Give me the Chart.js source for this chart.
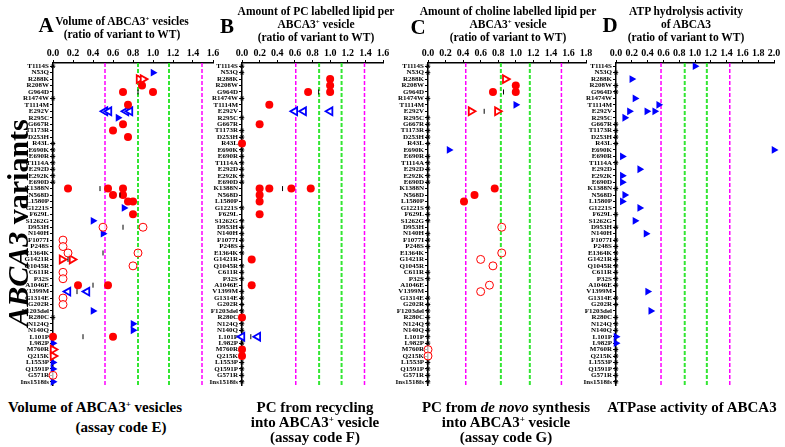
<!DOCTYPE html>
<html>
<head>
<meta charset="utf-8">
<script src="https://cdn.jsdelivr.net/npm/chart.js@4.4.1/dist/chart.umd.min.js"></script>
<style>
body { margin: 0; width: 785px; height: 447px; background: #fff; position: relative; overflow: hidden;
  font-family: "Liberation Serif", "Times New Roman", serif; font-weight: bold; color: #000; }
canvas { position: absolute; top: 0; }
.t { position: absolute; white-space: nowrap; transform: translateX(-50%); text-align: center; }
.ttl { font-size: 11.5px; line-height: 13px; }
.big { font-size: 21px; }
.lab { font-size: 15px; line-height: 15px; }
sup { font-size: 0.6em; line-height: 0; vertical-align: 0.55em; }
#ytitle { position: absolute; left: 0; top: 0; width: 240px; height: 30px; line-height: 30px; text-align: center;
  transform-origin: 0 0; transform: translate(3px, 343px) rotate(-90deg);
  font-size: 30px; white-space: nowrap; }
</style>
</head>
<body>
<canvas id="cA" width="225" height="395" style="left:0px"></canvas>
<canvas id="cB" width="205" height="395" style="left:190px"></canvas>
<canvas id="cC" width="220" height="395" style="left:378px"></canvas>
<canvas id="cD" width="219" height="395" style="left:566px"></canvas>

<div id="ytitle"><i>ABCA3</i> variants</div>

<div class="t big" style="left:46px;top:13px">A</div>
<div class="t ttl" style="left:122px;top:15px">Volume of ABCA3<sup>+</sup> vesicles<br>(ratio of variant to WT)</div>
<div class="t big" style="left:227px;top:14px">B</div>
<div class="t ttl" style="left:316px;top:5px">Amount of PC labelled lipid per<br>ABCA3<sup>+</sup> vesicle<br>(ratio of variant to WT)</div>
<div class="t big" style="left:418px;top:15px">C</div>
<div class="t ttl" style="left:508px;top:5px">Amount of choline labelled lipid per<br>ABCA3<sup>+</sup> vesicle<br>(ratio of variant to WT)</div>
<div class="t big" style="left:610px;top:13px">D</div>
<div class="t ttl" style="left:686px;top:5px">ATP hydrolysis activity<br>of ABCA3<br>(ratio of variant to WT)</div>

<div class="t lab" style="left:95px;top:400px">Volume of ABCA3<sup>+</sup> vesicles</div>
<div class="t lab" style="left:121px;top:420px">(assay code E)</div>
<div class="t lab" style="left:315px;top:400px">PC from recycling<br>into ABCA3<sup>+</sup> vesicle<br>(assay code F)</div>
<div class="t lab" style="left:506px;top:400px">PC from <i>de novo</i> synthesis<br>into ABCA3<sup>+</sup> vesicle<br>(assay code G)</div>
<div class="t lab" style="left:692px;top:400px">ATPase activity of ABCA3</div>

<script>
const variants = ['T1114S','N53Q','R288K','R208W','G964D','R1474W','T1114M','E292V','R295C','G667R',
  'T1173R','D253H','R43L','E690K','E690R','T1114A','E292D','E292K','E690D','K1388N',
  'N568D','L1580P','G1221S','F629L','S1262G','D953H','N140H','F1077I','P248S','E1364K',
  'G1421R','Q1045R','C611R','P32S','A1046E','V1399M','G1314E','G202R','F1203del','R280C',
  'N124Q','N140Q','L101P','L982P','M760R','Q215K','L1553P','Q1591P','G571R','Ins1518fs'];

// panel A: volume of ABCA3+ vesicles
const aRedDot = [['R208W',0.89],['G964D',0.70],['G964D',1.00],['T1114M',0.75],['G667R',0.70],['T1173R',0.60],
  ['D253H',0.75],['K1388N',0.15],['K1388N',0.55],['K1388N',0.70],['N568D',0.60],['N568D',0.70],['L1580P',0.75],
  ['L1580P',0.80],['F629L',0.80],['A1046E',0.25],['A1046E',0.55],['L101P',0.0],['L101P',0.60]];
const aRedRing = [['D953H',0.50],['D953H',0.90],['F1077I',0.10],['P248S',0.10],['E1364K',0.15],['E1364K',0.85],
  ['Q1045R',0.80],['C611R',0.10],['P32S',0.10],['G1314E',0.10],['G202R',0.10],['G571R',0.0]];
const aRedTri = [['R288K',0.86],['R288K',0.90],['G1421R',0.09],['G1421R',0.19],['M760R',0.0],['Q215K',0.0]];
const aBlueTri = [['N53Q',1.00],['R295C',0.65],['G1221S',0.71],['S1262G',0.40],['N140H',0.50],['F1203del',0.40],
  ['N124Q',0.80],['N140Q',0.80],['L982P',0.0],['L1553P',0.0],['Q1591P',0.0],['Ins1518fs',0.0]];
const aBlueLeft = [['E292V',0.52],['E292V',0.56],['E292V',0.73],['E292V',0.77],['V1399M',0.15],['V1399M',0.34]];
const aBars = [['G964D',0.85],['K1388N',0.47],['N568D',0.67],['D953H',0.70],['E1364K',0.50],['G1421R',0.15],
  ['A1046E',0.40],['V1399M',0.24],['L101P',0.30]];
const aLines = [0.52, 0.85, 1.16, 1.49];

// panel B: PC from recycling
const bRedDot = [['R288K',1.0],['R208W',1.0],['G964D',0.75],['G964D',1.0],['T1114M',0.31],['G667R',0.20],['R43L',0.0],
  ['K1388N',0.20],['K1388N',0.31],['K1388N',0.56],['K1388N',0.78],['N568D',0.20],['L1580P',0.20],['F629L',0.20],
  ['G1421R',0.11],['A1046E',0.11],['R280C',0.0],['M760R',0.0],['Q215K',0.0]];
const bBlueLeft = [['E292V',0.60],['E292V',0.70],['E292V',1.0],['L101P',0.0],['L101P',0.18]];
const bBars = [['G964D',0.87],['K1388N',0.46],['L101P',0.10]];
const bLines = [0.61, 0.875, 1.13, 1.39];

// panel C: PC from de novo synthesis
const cRedDot = [['R208W',1.0],['G964D',0.74],['G964D',1.0],['K1388N',0.76],['N568D',0.53],['L1580P',0.41]];
const cRedRing = [['D953H',0.84],['E1364K',0.84],['G1421R',0.60],['Q1045R',0.74],['A1046E',0.70],['V1399M',0.60],
  ['M760R',0.0],['Q215K',0.0]];
const cRedTri = [['R288K',0.88],['E292V',0.49],['E292V',0.79]];
const cBlueTri = [['T1114M',1.0],['E690K',0.24]];
const cBars = [['G964D',0.86],['E292V',0.64]];
const cLines = [0.43, 0.83, 1.16, 1.52];

// panel D: ATPase activity
const dBlueTri = [['T1114S',1.0],['R288K',0.20],['R1474W',0.24],['T1114M',0.54],['E292V',0.17],['E292V',0.39],
  ['E292V',0.49],['R295C',0.11],['E690K',2.0],['E690R',0.08],['E292D',0.30],['E292K',0.08],['E690D',0.08],
  ['N568D',0.11],['L1580P',0.08],['G1221S',0.30],['S1262G',0.24],['N140H',0.38],['V1399M',0.40],
  ['F1203del',0.44],['L101P',0.0],['L982P',0.0]];
const dLines = [0.57, 0.87, 1.15, 1.44];

const lineColors = ['#ff00ff', '#33e633', '#33e633', '#ff00ff'];
const RED = '#ff0000', BLUE = '#0000ff';

const styles = {
  redDot:   { pointStyle: 'circle', pointRadius: 4, backgroundColor: RED, borderColor: RED, borderWidth: 0 },
  redRing:  { pointStyle: 'circle', pointRadius: 4, backgroundColor: 'rgba(255,255,255,0.7)', borderColor: RED, borderWidth: 1 },
  redTri:   { pointStyle: 'triangle', pointRotation: 90, pointRadius: 4.5, backgroundColor: '#fff', borderColor: RED, borderWidth: 1.8 },
  blueTri:  { pointStyle: 'triangle', pointRotation: 90, pointRadius: 4.5, backgroundColor: BLUE, borderColor: BLUE, borderWidth: 0 },
  blueLeft: { pointStyle: 'triangle', pointRotation: -90, pointRadius: 4.5, backgroundColor: '#fff', borderColor: BLUE, borderWidth: 1.8 },
  bar:      { pointStyle: 'line', pointRotation: 90, pointRadius: 2.5, borderColor: '#000', borderWidth: 1 },
  nm:       { pointStyle: 'star', pointRadius: 2.3, borderColor: '#000', borderWidth: 1 }
};

const toPts = arr => arr.map(([v, x]) => ({ x: x, y: v }));

const refLines = {
  id: 'refLines',
  beforeDatasetsDraw(chart, args, opts) {
    const { ctx, chartArea, scales } = chart;
    opts.values.forEach((v, i) => {
      const px = scales.x.getPixelForValue(v);
      ctx.save();
      ctx.strokeStyle = lineColors[i];
      ctx.lineWidth = i === 1 || i === 2 ? 2 : 1.5;
      ctx.setLineDash([4, 2]);
      ctx.beginPath();
      ctx.moveTo(px, chartArea.top);
      ctx.lineTo(px, chartArea.bottom);
      ctx.stroke();
      ctx.restore();
    });
  }
};

function makePanel(id, xMax, yWidth, padRight, lines, groups) {
  // rows with no value in this panel get the "not measured" mark at zero
  const used = new Set();
  groups.forEach(g => g.data.forEach(d => used.add(d[0])));
  const missing = variants.filter(v => !used.has(v)).map(v => [v, 0]);
  const all = [{ kind: 'nm', data: missing }].concat(groups);
  const datasets = all.map(g => Object.assign({ data: toPts(g.data), clip: false }, styles[g.kind]));

  new Chart(document.getElementById(id), {
    type: 'scatter',
    data: { datasets },
    plugins: [refLines],
    options: {
      responsive: false,
      animation: false,
      layout: { padding: { left: 0, right: padRight, top: 45, bottom: 10 } },
      plugins: { legend: { display: false }, tooltip: { enabled: false }, refLines: { values: lines } },
      scales: {
        x: {
          type: 'linear', position: 'top', min: 0, max: xMax,
          afterFit: s => { s.height = 18; },
          border: { display: true, color: '#000', width: 1.5 },
          grid: { drawOnChartArea: false, drawTicks: true, tickLength: 3, color: '#000' },
          ticks: { stepSize: 0.2, padding: 1, color: '#000', maxRotation: 0,
            font: { family: 'Liberation Serif', weight: 'bold', size: 10 },
            callback: v => Number(v).toFixed(1) }
        },
        y: {
          type: 'category', labels: variants, offset: true,
          afterFit: s => { s.width = yWidth; },
          border: { display: true, color: '#000', width: 1.5 },
          grid: { drawOnChartArea: false, drawTicks: true, tickLength: 3, color: '#000' },
          ticks: { autoSkip: false, padding: 1, color: '#000',
            font: { family: 'Liberation Serif', weight: 'bold', size: 7 } }
        }
      }
    }
  });
}

makePanel('cA', 1.6, 53, 12, aLines, [
  { kind: 'bar', data: aBars }, { kind: 'redDot', data: aRedDot }, { kind: 'redRing', data: aRedRing },
  { kind: 'redTri', data: aRedTri }, { kind: 'blueTri', data: aBlueTri }, { kind: 'blueLeft', data: aBlueLeft }
]);
makePanel('cB', 1.6, 52, 12, bLines, [
  { kind: 'bar', data: bBars }, { kind: 'redDot', data: bRedDot }, { kind: 'blueLeft', data: bBlueLeft }
]);
makePanel('cC', 1.8, 50, 12, cLines, [
  { kind: 'bar', data: cBars }, { kind: 'redDot', data: cRedDot }, { kind: 'redRing', data: cRedRing },
  { kind: 'redTri', data: cRedTri }, { kind: 'blueTri', data: cBlueTri }
]);
makePanel('cD', 2.0, 50, 11, dLines, [
  { kind: 'blueTri', data: dBlueTri }
]);
</script>
</body>
</html>
